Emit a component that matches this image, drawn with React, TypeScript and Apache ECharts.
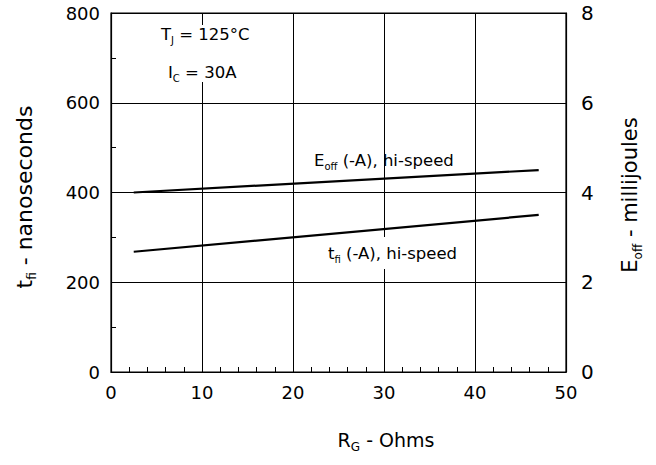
import React, { useEffect, useRef } from "react";
import * as echarts from "echarts";

const rgTicks = [0, 10, 20, 30, 40, 50];
const tfiTicks = [0, 200, 400, 600, 800];
const eoffTicks = [0, 2, 4, 6, 8];
const rgValues = [2.5, 47];
const eoffValues = [4.0, 4.5];
const tfiValues = [268, 350];

const FONT = "DejaVu Sans, Verdana, sans-serif";

const rich = {
  n: { fontSize: 16.5, fontFamily: FONT, color: "#000", lineHeight: 22, verticalAlign: "middle" as const },
  s: { fontSize: 10, fontFamily: FONT, color: "#000", lineHeight: 22, verticalAlign: "bottom" as const },
  t: { fontSize: 21, fontFamily: FONT, color: "#000", lineHeight: 28, verticalAlign: "middle" as const },
  ts: { fontSize: 12, fontFamily: FONT, color: "#000", lineHeight: 28, verticalAlign: "bottom" as const },
  l: { fontSize: 22, fontFamily: FONT, color: "#000", lineHeight: 28, verticalAlign: "middle" as const },
  x: { fontSize: 19, fontFamily: FONT, color: "#000", lineHeight: 26, verticalAlign: "middle" as const },
  xs: { fontSize: 12, fontFamily: FONT, color: "#000", lineHeight: 26, verticalAlign: "bottom" as const },
};

export default function App() {
  const ref = useRef<HTMLDivElement>(null);
  useEffect(() => {
    document.body.style.margin = "0";
    if (!ref.current) return;
    const chart = echarts.init(ref.current, undefined, { renderer: "svg" });
    chart.setOption({
      animation: false,
      backgroundColor: "#fff",
      grid: { left: 111, right: 90, top: 13, bottom: 93, show: true, borderColor: "#000", borderWidth: 1.2 },
      xAxis: {
        type: "value",
        min: rgTicks[0],
        max: rgTicks[rgTicks.length - 1],
        interval: 10,
        axisLine: { show: true, lineStyle: { color: "#000", width: 1.2 } },
        axisTick: { show: false, inside: true },
        minorTick: { show: true, splitNumber: 5, length: 5, lineStyle: { color: "#000", width: 1 } },
        splitLine: { show: true, lineStyle: { color: "#000", width: 1 } },
        axisLabel: { color: "#000", fontSize: 18, fontFamily: FONT, margin: 11 },
      },
      yAxis: [
        {
          type: "value",
          min: tfiTicks[0],
          max: tfiTicks[tfiTicks.length - 1],
          interval: 200,
          axisLine: { show: true, lineStyle: { color: "#000", width: 1.2 } },
          axisTick: { show: false, inside: true },
          minorTick: { show: true, splitNumber: 2, length: 5, lineStyle: { color: "#000", width: 1 } },
          splitLine: { show: true, lineStyle: { color: "#000", width: 1 } },
          axisLabel: { color: "#000", fontSize: 18, fontFamily: FONT, margin: 11 },
        },
        {
          type: "value",
          min: eoffTicks[0],
          max: eoffTicks[eoffTicks.length - 1],
          interval: 2,
          position: "right",
          axisLine: { show: true, lineStyle: { color: "#000", width: 1.2 } },
          axisTick: { show: false },
          splitLine: { show: false },
          axisLabel: { color: "#000", fontSize: 20, fontFamily: FONT, margin: 15 },
        },
      ],
      series: [
        {
          type: "line",
          name: "Eoff",
          yAxisIndex: 1,
          data: rgValues.map((x, i) => [x, eoffValues[i]]),
          showSymbol: false,
          symbol: "none",
          lineStyle: { color: "#000", width: 2.2 },
          z: 3,
        },
        {
          type: "line",
          name: "tfi",
          yAxisIndex: 0,
          data: rgValues.map((x, i) => [x, tfiValues[i]]),
          showSymbol: false,
          symbol: "none",
          lineStyle: { color: "#000", width: 2.2 },
          z: 3,
        },
      ],
      graphic: [
        { type: "rect", shape: { x: 196, y: 25, width: 10, height: 57 }, style: { fill: "#fff" }, z: 10 },
        {
          type: "text",
          x: 161,
          y: 34,
          z: 11,
          style: { text: "{n|T}{s|J}{n| = 125°C}", rich, align: "left", verticalAlign: "middle" },
        },
        {
          type: "text",
          x: 168,
          y: 72,
          z: 11,
          style: { text: "{n|I}{s|C}{n| = 30A}", rich, align: "left", verticalAlign: "middle" },
        },
        {
          type: "text",
          x: 314,
          y: 160,
          z: 11,
          style: { text: "{n|E}{s|off}{n| (-A), hi-speed}", rich, align: "left", verticalAlign: "middle" },
        },
        {
          type: "text",
          x: 326,
          y: 253,
          z: 11,
          style: {
            text: "{n|t}{s|fi}{n| (-A), hi-speed}",
            rich,
            align: "left",
            verticalAlign: "middle",
            backgroundColor: "#fff",
            padding: [5, 2, 5, 2],
          },
        },
        {
          type: "text",
          x: 24,
          y: 197,
          rotation: Math.PI / 2,
          z: 11,
          style: { text: "{l|t}{ts|fi}{l| - nanoseconds}", rich, align: "center", verticalAlign: "middle" },
        },
        {
          type: "text",
          x: 630,
          y: 195,
          rotation: Math.PI / 2,
          z: 11,
          style: { text: "{t|E}{ts|off}{t| - millijoules}", rich, align: "center", verticalAlign: "middle" },
        },
        {
          type: "text",
          x: 386,
          y: 440,
          z: 11,
          style: { text: "{x|R}{xs|G}{x| - Ohms}", rich, align: "center", verticalAlign: "middle" },
        },
      ],
    });
    return () => chart.dispose();
  }, []);
  return <div ref={ref} style={{ width: 656, height: 465 }} />;
}
